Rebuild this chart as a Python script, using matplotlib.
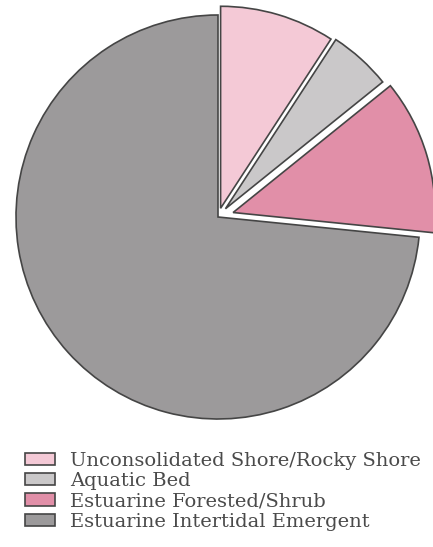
import matplotlib.pyplot as plt

# wetland classes and their share of the area (%)
labels = ['Unconsolidated Shore/Rocky Shore', 'Aquatic Bed',
          'Estuarine Forested/Shrub', 'Estuarine Intertidal Emergent']
shares = [9.2, 5.0, 12.4, 73.4]
colors = ['#f4c9d6', '#cac8c9', '#e18fa8', '#9c9a9b']
explode = [0.045, 0.055, 0.078, 0.0]

fig = plt.figure(figsize=(4.33, 5.47), dpi=100)
ax = fig.add_axes([0, 0, 1, 1])

wedges, _ = ax.pie(shares, colors=colors, explode=explode, startangle=90,
                   counterclock=False, center=(0, 0), radius=1.0,
                   wedgeprops=dict(edgecolor='#454545', linewidth=1.2))

# pie centre at about (218, 217) px, radius ~202 px
ax.set_xlim(-218 / 202, (433 - 218) / 202)
ax.set_ylim((217 - 547) / 202, 217 / 202)
ax.set_aspect('auto')
ax.axis('off')

leg = fig.legend(wedges, labels, loc='upper left',
                 bbox_to_anchor=(0.058, 0.174), frameon=False,
                 prop=dict(family='DejaVu Serif', size=14),
                 handlelength=1.55, handleheight=0.6, handletextpad=0.75,
                 labelspacing=0.12, borderpad=0, borderaxespad=0)
for t in leg.get_texts():
    t.set_color('#4a4a4a')

fig.savefig('out.png', dpi=100)
